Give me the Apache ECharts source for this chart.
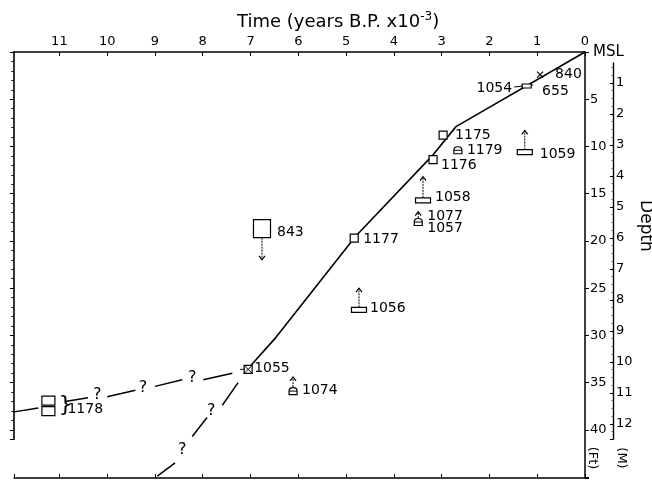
<!DOCTYPE html>
<html><head><meta charset="utf-8">
<script src="https://cdn.jsdelivr.net/npm/echarts/dist/echarts.min.js"></script>
<style>html,body{margin:0;padding:0;background:#fff}#c{width:652px;height:483px}</style>
</head><body><div id="c"></div>
<script>
// ---- data (time in 10^3 years B.P., depth in feet below MSL) ----
const timeTicks = [0,1,2,3,4,5,6,7,8,9,10,11];
const feetTicks = [0,5,10,15,20,25,30,35,40];
const meterTicks = [1,2,3,4,5,6,7,8,9,10,11,12];

const curveTime  = [0, 2.70, 3.20, 4.80, 6.50, 7.05];
const curveDepth = [0, 7.9, 11.0, 19.5, 30.4, 33.5];

const steepTime  = [7.26, 7.59, '-', 7.91, 8.22, '-', 8.58, 8.95];
const steepDepth = [35.0, 37.4, '-', 38.7, 40.7, '-', 43.5, 44.9];

const shallowTime  = [11.95, 11.44, '-', 10.88, 10.40, '-', 10.00, 9.41, '-', 9.00, 8.43, '-', 7.99, 7.38];
const shallowDepth = [38.1, 37.7, '-', 37.0, 36.6, '-', 36.5, 35.8, '-', 35.4, 34.7, '-', 34.7, 34.0];

const queryTime  = [10.21, 9.25, 8.22, 7.82, 8.43];
const queryDepth = [36.3, 35.6, 34.5, 38.0, 42.1];

const sampleLabels = ['1175','1179','1176','1058','1077','1059','843','1177','1056','1055','1074','1178','1054','840'];
const sampleTime   = [2.97, 2.66, 3.18, 3.39, 3.49, 1.26, 6.76, 4.83, 4.73, 7.05, 6.11, 11.23, 1.21, 0.94];
const sampleDepth  = [8.8, 10.4, 11.4, 15.7, 18.0, 10.6, 18.7, 19.7, 27.3, 33.6, 35.9, 37.5, 3.6, 2.4];
const sampleKind   = ['box','bell','box','flat','bell','flat','bigbox','box','flat','hatch','bell','double','flatsmall','cross'];
const arrowDepth   = [null, null, null, 13.2, 16.9, 8.3, 22.0, null, 25.0, null, 34.4, null, null, null];
const extraLabels  = {'1077':'1057', '840':'655'};

// ---- layout / styles ----
const FONT = 'DejaVu Sans';
const xMax = 11.95;
const feetMax = 45.1;
const rulerFeet = 41;
const pxPerFoot = 426 / feetMax;
const labelStyle = {
  '1175':[12,0], '1179':[9,0], '1176':[8,6], '1058':[12,-3], '1077':[9,-6], '1059':[15,2],
  '843':[15,4], '1177':[9,1], '1056':[11,-2], '1055':[6,-1], '1074':[9,-1], '1178':[19,3],
  '1054':[-15,2], '840':[15,0]
};
const extraStyle = {'1077':[9,6], '840':[2,17]};

function txt(s, x, y, align, size) {
  return {type:'text', x:x, y:y, style:{text:s, fill:'#000', font:(size||14)+'px "'+FONT+'"',
    align:align||'left', verticalAlign:'middle', textAlign:align||'left', textVerticalAlign:'middle'}};
}
const stroke = {stroke:'#000', lineWidth:1.2, fill:'#fff'};

function renderSample(params, api) {
  const i = params.dataIndex;
  const t = api.value(0), d = api.value(1);
  const p = api.coord([t, d]);
  const kind = sampleKind[i];
  const ch = [];
  let half = 4;
  if (kind === 'box') { ch.push({type:'rect', shape:{x:p[0]-4,y:p[1]-4,width:8,height:8}, style:stroke}); }
  if (kind === 'hatch') {
    ch.push({type:'rect', shape:{x:p[0]-4,y:p[1]-4,width:8,height:8}, style:stroke});
    ch.push({type:'line', shape:{x1:p[0]-4,y1:p[1]+4,x2:p[0]+4,y2:p[1]-4}, style:{stroke:'#000',lineWidth:1}});
    ch.push({type:'line', shape:{x1:p[0]-4,y1:p[1]-4,x2:p[0]+4,y2:p[1]+4}, style:{stroke:'#000',lineWidth:1}});
    ch.push({type:'line', shape:{x1:p[0]-8,y1:p[1],x2:p[0]-4,y2:p[1]}, style:{stroke:'#000',lineWidth:1}});
  }
  if (kind === 'bigbox') { half = 9; ch.push({type:'rect', shape:{x:p[0]-8.5,y:p[1]-9,width:17,height:18}, style:stroke}); }
  if (kind === 'flat') { half = 2.5; ch.push({type:'rect', shape:{x:p[0]-7.5,y:p[1]-2.5,width:15,height:5}, style:stroke}); }
  if (kind === 'flatsmall') {
    half = 2;
    ch.push({type:'line', shape:{x1:p[0]-13,y1:p[1]+1,x2:p[0]+6,y2:p[1]-1}, style:{stroke:'#000',lineWidth:1.2}});
    ch.push({type:'rect', shape:{x:p[0]-5,y:p[1]-2,width:9,height:4}, style:stroke});
  }
  if (kind === 'bell') {
    half = 4;
    ch.push({type:'rect', shape:{x:p[0]-4,y:p[1]-3.5,width:8,height:7, r:[3.5,3.5,0,0]}, style:stroke});
    ch.push({type:'line', shape:{x1:p[0]-4,y1:p[1],x2:p[0]+4,y2:p[1]}, style:{stroke:'#000',lineWidth:1}});
  }
  if (kind === 'double') {
    ch.push({type:'rect', shape:{x:p[0]-6.5,y:p[1]-10,width:13,height:9}, style:stroke});
    ch.push({type:'rect', shape:{x:p[0]-6.5,y:p[1]+0.5,width:13,height:9}, style:stroke});
    ch.push(txt('}', p[0]+10, p[1]-1, 'left', 22));
  }
  if (kind === 'cross') {
    ch.push({type:'line', shape:{x1:p[0]-3,y1:p[1]-3,x2:p[0]+3,y2:p[1]+3}, style:{stroke:'#000',lineWidth:1.2}});
    ch.push({type:'line', shape:{x1:p[0]-3,y1:p[1]+3,x2:p[0]+3,y2:p[1]-3}, style:{stroke:'#000',lineWidth:1.2}});
  }
  const a = arrowDepth[i];
  if (a !== null) {
    const q = api.coord([t, a]);
    const up = q[1] < p[1];
    const y0 = up ? p[1]-half : p[1]+half;
    ch.push({type:'line', shape:{x1:p[0],y1:y0,x2:q[0],y2:q[1]}, style:{stroke:'#000',lineWidth:1, lineDash:[2,1]}});
    const s = up ? 1 : -1;
    ch.push({type:'polyline', shape:{points:[[q[0]-3,q[1]+4*s],[q[0],q[1]],[q[0]+3,q[1]+4*s]]}, style:{stroke:'#000',lineWidth:1.2,fill:null}});
  }
  const lab = sampleLabels[i];
  const o = labelStyle[lab];
  ch.push(txt(lab, p[0]+o[0], p[1]+o[1], o[0] < 0 ? 'right' : 'left'));
  if (extraLabels[lab]) {
    const e = extraStyle[lab];
    ch.push(txt(extraLabels[lab], p[0]+e[0], p[1]+e[1], 'left'));
  }
  return {type:'group', children:ch};
}

function renderQuery(params, api) {
  const p = api.coord([api.value(0), api.value(1)]);
  return txt('?', p[0], p[1], 'center', 16);
}

const zip = (a, b) => a.map((v, k) => [v, b[k]]);

const chart = echarts.init(document.getElementById('c'), null, {renderer:'canvas'});
const baseAxisLine = {lineStyle:{color:'#000', width:1.5}};
const option = {
  animation:false,
  backgroundColor:'#fff',
  grid:[
    {left:14, right:67, top:52, bottom:5},
    {left:14, right:67, top:52, height: rulerFeet * pxPerFoot}
  ],
  xAxis:[
    {gridIndex:0, type:'value', position:'top', inverse:true, min:0, max:xMax, interval:1,
     axisLine:baseAxisLine, axisTick:{inside:true, length:4, lineStyle:{color:'#000'}},
     axisLabel:{color:'#000', fontSize:13, fontFamily:FONT, margin:4, showMaxLabel:false,
       formatter:v => timeTicks.indexOf(v) >= 0 ? String(v) : ''},
     splitLine:{show:false}},
    {gridIndex:0, type:'value', position:'bottom', inverse:true, min:0, max:xMax, interval:1,
     axisLine:baseAxisLine, axisTick:{inside:true, length:4, lineStyle:{color:'#000'}},
     axisLabel:{show:false}, splitLine:{show:false}},
    {gridIndex:1, type:'value', show:false, min:0, max:1}
  ],
  yAxis:[
    {gridIndex:0, type:'value', position:'left', inverse:true, min:0, max:feetMax, interval:5,
     axisLine:{show:true, lineStyle:{color:'#000', width:1.5}}, axisTick:{show:true, inside:true, length:4, lineStyle:{color:'#000'}},
     axisLabel:{show:false}, splitLine:{show:false}},
    {gridIndex:1, type:'value', position:'right', inverse:true, min:0, max:rulerFeet, interval:5, z:5,
     axisLine:{show:true, lineStyle:{color:'#000', width:1.6}},
     axisTick:{show:true, inside:true, length:4, lineStyle:{color:'#000'}},
     minorTick:{show:true, splitNumber:5, length:2.5, lineStyle:{color:'#000'}},
     axisLabel:{color:'#000', fontSize:13, fontFamily:FONT, margin:5, showMaxLabel:false,
       formatter:v => v === 0 ? '{m|MSL}' : (feetTicks.indexOf(v) >= 0 ? String(v) : ''),
       rich:{m:{fontSize:15, fontFamily:FONT, color:'#000', backgroundColor:'#fff', padding:[3,0,3,3]}}},
     splitLine:{show:false}},
    {gridIndex:1, type:'value', position:'right', offset:28, inverse:true, min:0, max:rulerFeet*0.3048, interval:1, z:1,
     axisLine:{show:true, lineStyle:{color:'#000', width:1.4}},
     axisTick:{show:true, inside:true, length:3, lineStyle:{color:'#000'}},
     minorTick:{show:true, splitNumber:4, length:1.5, lineStyle:{color:'#666'}},
     axisLabel:{color:'#000', fontSize:13, fontFamily:FONT, margin:3, showMaxLabel:false,
       formatter:v => meterTicks.indexOf(v) >= 0 ? String(v) : ''},
     splitLine:{show:false}}
  ],
  graphic:[
    {type:'text', x:237, y:22, style:{
      text:'Time (years B.P. x10{s|-3})', fill:'#000', font:'18px "'+FONT+'"', verticalAlign:'middle',
      rich:{s:{fontSize:12, verticalAlign:'top', padding:[0,0,10,0], fontFamily:FONT}}}},
    {type:'text', x:645, y:226, rotation:-Math.PI/2, style:{text:'Depth', fill:'#000', font:'17px "'+FONT+'"', align:'center', verticalAlign:'middle'}},
    {type:'text', x:592, y:458, rotation:-Math.PI/2, style:{text:'(Ft)', fill:'#000', font:'13px "'+FONT+'"', align:'center', verticalAlign:'middle'}},
    {type:'text', x:621, y:458, rotation:-Math.PI/2, style:{text:'(M)', fill:'#000', font:'13px "'+FONT+'"', align:'center', verticalAlign:'middle'}}
  ],
  series:[
    {type:'line', xAxisIndex:0, yAxisIndex:0, data:zip(curveTime, curveDepth), symbol:'none',
     lineStyle:{color:'#000', width:1.6}, z:2},
    {type:'line', xAxisIndex:0, yAxisIndex:0, data:zip(steepTime, steepDepth), symbol:'none', connectNulls:false,
     lineStyle:{color:'#000', width:1.5}, z:2},
    {type:'line', xAxisIndex:0, yAxisIndex:0, data:zip(shallowTime, shallowDepth), symbol:'none', connectNulls:false,
     lineStyle:{color:'#000', width:1.5}, z:2},
    {type:'custom', xAxisIndex:0, yAxisIndex:0, data:zip(queryTime, queryDepth), renderItem:renderQuery, z:3},
    {type:'custom', xAxisIndex:0, yAxisIndex:0, data:zip(sampleTime, sampleDepth), renderItem:renderSample, z:4}
  ]
};
chart.setOption(option);
</script>
</body></html>
